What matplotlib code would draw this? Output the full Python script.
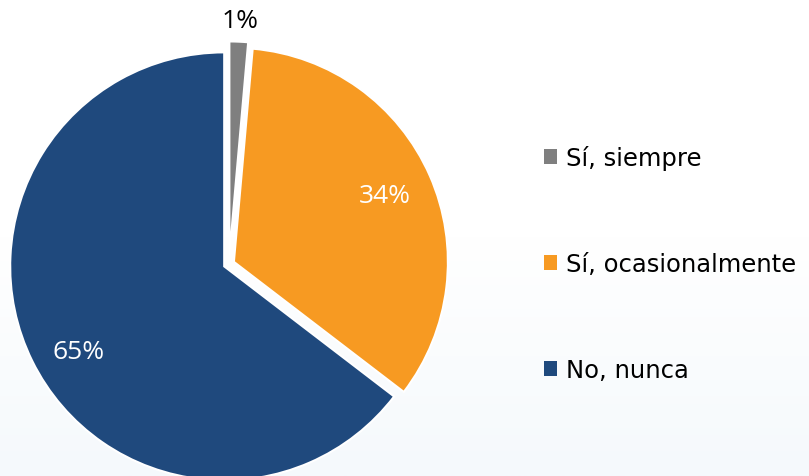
import matplotlib.pyplot as plt
import numpy as np
from matplotlib.colors import LinearSegmentedColormap
from matplotlib.patches import Patch

labels = ['Sí, siempre', 'Sí, ocasionalmente', 'No, nunca']
values = [1.4, 34, 64.6]
pct_text = ['1%', '34%', '65%']
colors = ['#7f7f7f', '#f79a22', '#1f497d']

fig = plt.figure(figsize=(8.09, 4.77), dpi=100)

# soft background gradient (white -> faint blue at the bottom)
bg = fig.add_axes([0, 0, 1, 1], zorder=0)
grad = np.linspace(0, 1, 256).reshape(-1, 1)
cmap = LinearSegmentedColormap.from_list('bg', ['#f5f9fc', '#ffffff', '#ffffff'])
bg.imshow(grad, aspect='auto', cmap=cmap, extent=[0, 1, 0, 1], origin='lower')
bg.axis('off')

ax = fig.add_axes([0, 0, 1, 1], zorder=1)
ax.patch.set_alpha(0)

wedges, _ = ax.pie(values, colors=colors, startangle=90, counterclock=False,
                   explode=[0.04, 0.025, 0.025],
                   wedgeprops=dict(edgecolor='white', linewidth=1.5))

r_px = 214
cx, cy = 229, 477 - 265
ax.set_xlim(-cx / r_px, (809 - cx) / r_px)
ax.set_ylim(-cy / r_px, (477 - cy) / r_px)
ax.axis('off')

# percentage labels (distance from wedge tip, small angle nudge)
for w, t, c, d, da in zip(wedges, pct_text, ['black', 'white', 'white'],
                          [1.10, 0.77, 0.79], [0, 0, 4]):
    ang = np.deg2rad((w.theta1 + w.theta2) / 2 + da)
    ax.text(w.center[0] + d * np.cos(ang), w.center[1] + d * np.sin(ang), t,
            ha='center', va='center', color=c, fontsize=19, family='Open Sans')

handles = [Patch(facecolor=c, edgecolor='none') for c in colors]
fig.legend(handles, labels, loc='upper left', bbox_to_anchor=(522 / 809, 1 - 124 / 477),
           frameon=False, handlelength=0.55, handleheight=0.55,
           handletextpad=0.35, labelspacing=3.38,
           prop={'family': 'DejaVu Sans', 'size': 17.5})

fig.savefig('out.png', dpi=100)
